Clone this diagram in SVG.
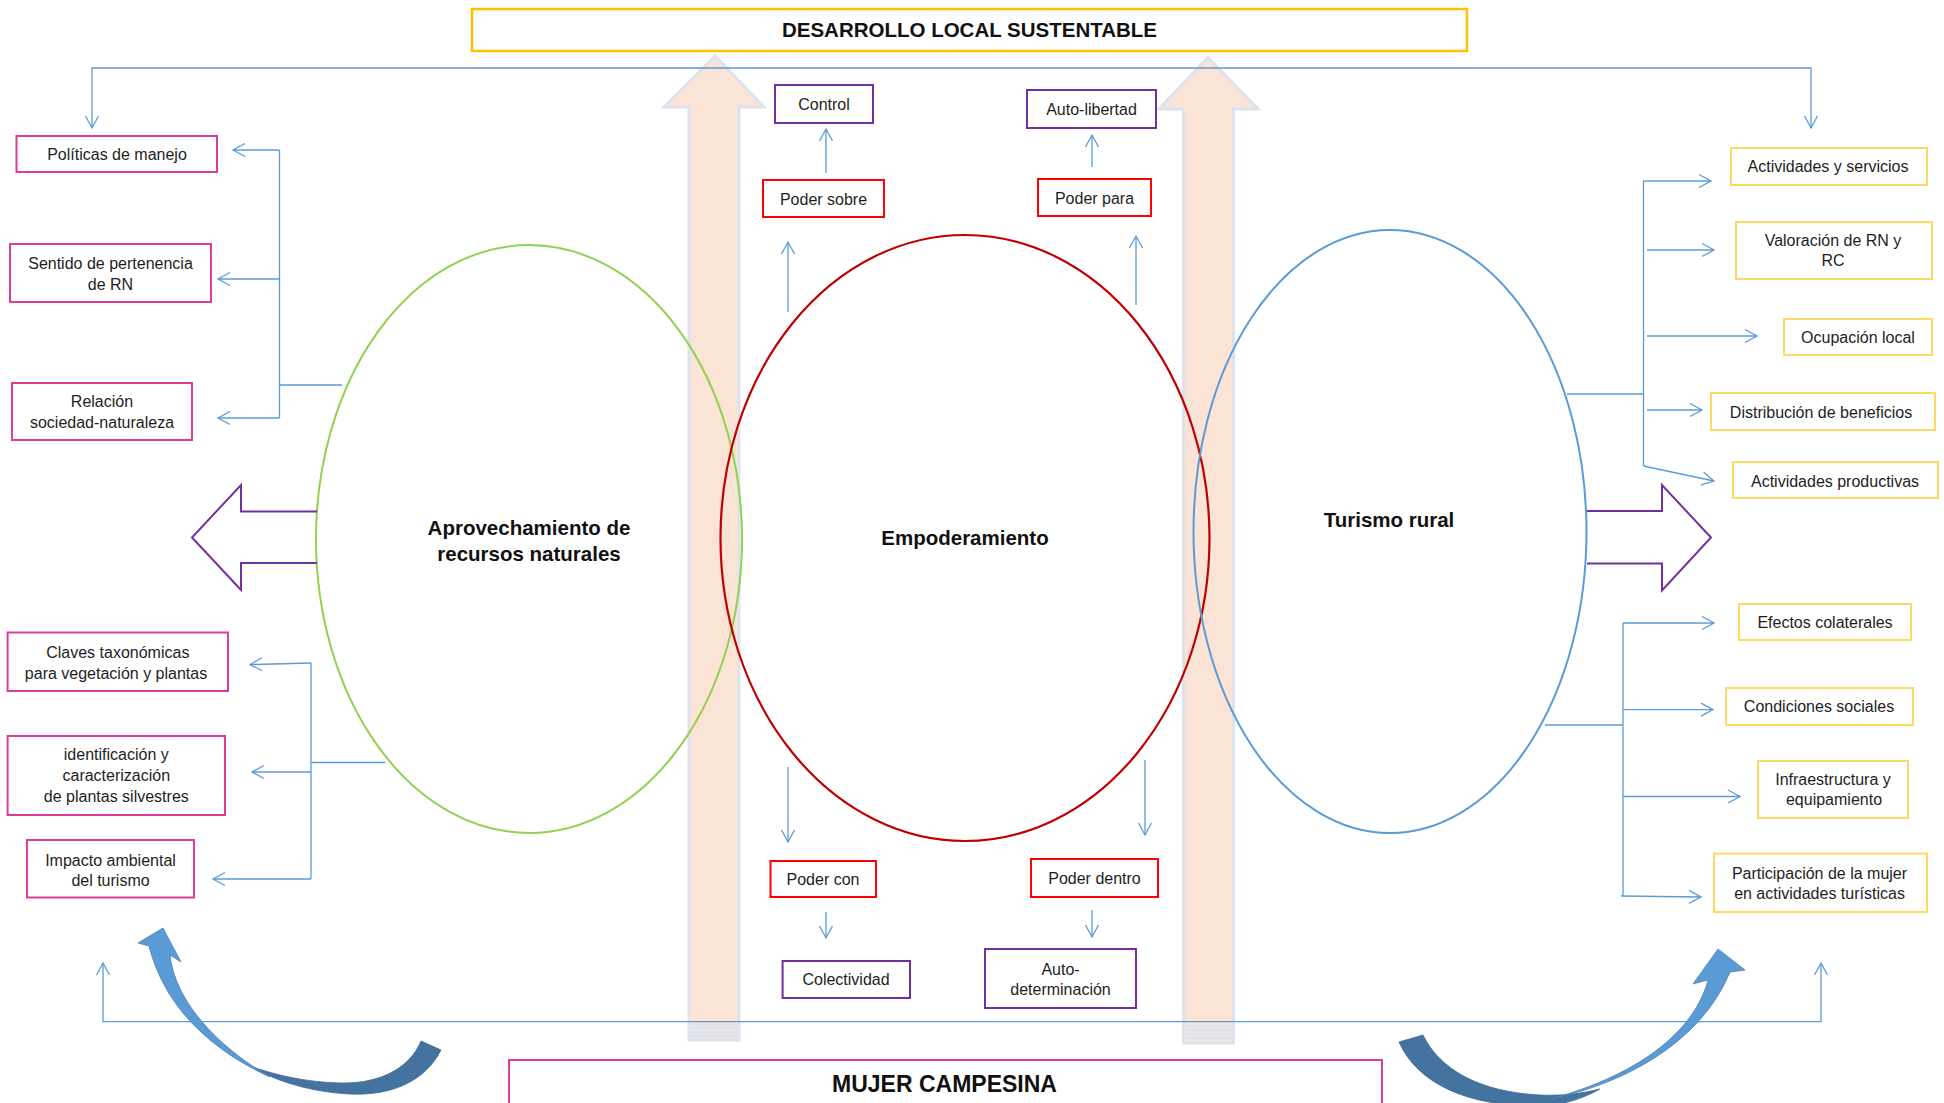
<svg xmlns="http://www.w3.org/2000/svg" width="1944" height="1103" viewBox="0 0 1944 1103">
<defs>
<style>
.bx{fill:#fff;stroke-width:2}
.mag{stroke:#DC3C9C}
.red{stroke:#FF0000}
.pur{stroke:#7030A0}
.gld{stroke:#FFD966}
.t{font-family:"Liberation Sans",Arial,sans-serif;font-size:16px;fill:#1e1e1e;text-anchor:middle}
.tb{font-family:"Liberation Sans",Arial,sans-serif;font-weight:bold;fill:#111;text-anchor:middle}
.cn{fill:none;stroke:#5B9BD5;stroke-width:1.3}
.ar{marker-end:url(#ah)}
.peach{fill:#FBE4D5;stroke:#DCE3EF;stroke-width:3}
.blk{fill:none;stroke:#7030A0;stroke-width:2}
</style>
<marker id="ah" markerUnits="userSpaceOnUse" markerWidth="16" markerHeight="16" viewBox="0 0 16 16" refX="14" refY="8" orient="auto-start-reverse">
<path d="M2,1.5 L14,8 L2,14.5" fill="none" stroke="#5B9BD5" stroke-width="1.3"/>
</marker>
</defs>
<rect width="1944" height="1103" fill="#fff"/>

<g id="peach-arrows">
<path class="peach" d="M715,56 L764,107 L739,107 L739,1025 L689,1025 L689,107 L664,107 Z"/>
<rect class="peach" x="689" y="1028" width="50" height="5" stroke-width="2"/>
<rect class="peach" x="689" y="1036" width="50" height="4" stroke-width="2"/>
<path class="peach" d="M1208,57.5 L1258,109 L1233.5,109 L1233.5,1027 L1183.5,1027 L1183.5,109 L1159,109 Z"/>
<rect class="peach" x="1183.5" y="1030" width="50" height="5" stroke-width="2"/>
<rect class="peach" x="1183.5" y="1038" width="50" height="5" stroke-width="2"/>
</g>

<g id="node-aprovechamiento">
<ellipse cx="529" cy="539" rx="213" ry="294" fill="none" stroke="#92D050" stroke-width="2"/>
<text class="tb" font-size="20.5" x="529" y="535">Aprovechamiento de</text>
<text class="tb" font-size="20.5" x="529" y="561">recursos naturales</text>
</g>
<g id="node-empoderamiento">
<ellipse cx="965" cy="538" rx="244.5" ry="303" fill="none" stroke="#C00000" stroke-width="2.2"/>
<text class="tb" font-size="20.5" x="965" y="545">Empoderamiento</text>
</g>
<g id="node-turismo">
<ellipse cx="1390" cy="531.5" rx="196.5" ry="301.5" fill="none" stroke="#5B9BD5" stroke-width="2"/>
<text class="tb" font-size="20.5" x="1389" y="527">Turismo rural</text>
</g>

<g id="block-arrows">
<path class="blk" d="M317,511.5 H241 V485 L192,537.5 L241,590 V563 H317"/>
<path class="blk" d="M1587,511 H1662 V485 L1711,537.5 L1662,590.5 V563.5 H1587"/>
</g>

<g id="node-titulo">
<rect x="472" y="9" width="995" height="42" fill="#fff" stroke="#FFC000" stroke-width="2.5"/>
<text class="tb" font-size="20.5" x="969.5" y="37">DESARROLLO LOCAL SUSTENTABLE</text>
</g>
<g id="node-mujer">
<rect x="509" y="1060" width="873" height="60" fill="#fff" stroke="#DC3C9C" stroke-width="2"/>
<text class="tb" font-size="23" x="944.5" y="1092">MUJER CAMPESINA</text>
</g>

<g id="node-politicas"><rect class="bx mag" x="16.5" y="136" width="200.5" height="36"/><text class="t" x="117" y="159.5">Políticas de manejo</text></g>
<g id="node-sentido"><rect class="bx mag" x="10" y="244" width="201" height="58"/><text class="t" x="110.5" y="269">Sentido de pertenencia</text><text class="t" x="110.5" y="290">de RN</text></g>
<g id="node-relacion"><rect class="bx mag" x="12" y="383" width="180" height="57"/><text class="t" x="102" y="407">Relación</text><text class="t" x="102" y="428">sociedad-naturaleza</text></g>
<g id="node-claves"><rect class="bx mag" x="7.6" y="632.5" width="220.4" height="58.5"/><text class="t" x="117.8" y="658">Claves  taxonómicas</text><text class="t" x="116" y="679">para vegetación  y plantas</text></g>
<g id="node-identificacion"><rect class="bx mag" x="7.6" y="736" width="217.4" height="79"/><text class="t" x="116.3" y="760">identificación y</text><text class="t" x="116.3" y="781">caracterización</text><text class="t" x="116.3" y="802">de plantas  silvestres</text></g>
<g id="node-impacto"><rect class="bx mag" x="27" y="840" width="167" height="57.5"/><text class="t" x="110.5" y="865.5">Impacto ambiental</text><text class="t" x="110.5" y="885.5">del turismo</text></g>

<g id="node-control"><rect class="bx pur" x="775" y="85" width="98" height="38"/><text class="t" x="824" y="110">Control</text></g>
<g id="node-poder-sobre"><rect class="bx red" x="763" y="180" width="121" height="37"/><text class="t" x="823.5" y="204.5">Poder sobre</text></g>
<g id="node-autolibertad"><rect class="bx pur" x="1027" y="90" width="129" height="38"/><text class="t" x="1091.5" y="115">Auto-libertad</text></g>
<g id="node-poder-para"><rect class="bx red" x="1038" y="179" width="113" height="37"/><text class="t" x="1094.5" y="203.5">Poder para</text></g>
<g id="node-poder-con"><rect class="bx red" x="770.5" y="861" width="105.5" height="36"/><text class="t" x="823" y="884.5">Poder con</text></g>
<g id="node-poder-dentro"><rect class="bx red" x="1031" y="859" width="127" height="38"/><text class="t" x="1094.5" y="883.5">Poder dentro</text></g>
<g id="node-colectividad"><rect class="bx pur" x="782.6" y="961" width="127.4" height="37"/><text class="t" x="846" y="985">Colectividad</text></g>
<g id="node-autodeterminacion"><rect class="bx pur" x="985" y="949" width="151" height="59"/><text class="t" x="1060.5" y="975">Auto-</text><text class="t" x="1060.5" y="995">determinación</text></g>

<g id="node-actividades-servicios"><rect class="bx gld" x="1731" y="148" width="196" height="37"/><text class="t" x="1828" y="172">Actividades  y servicios</text></g>
<g id="node-valoracion"><rect class="bx gld" x="1736" y="222" width="196" height="57"/><text class="t" x="1833" y="246">Valoración de RN  y</text><text class="t" x="1833" y="266">RC</text></g>
<g id="node-ocupacion"><rect class="bx gld" x="1784" y="319" width="148" height="36"/><text class="t" x="1858" y="343">Ocupación local</text></g>
<g id="node-distribucion"><rect class="bx gld" x="1711" y="393" width="224" height="37"/><text class="t" x="1821" y="418">Distribución de beneficios</text></g>
<g id="node-act-productivas"><rect class="bx gld" x="1733" y="462" width="205" height="36"/><text class="t" x="1835" y="486.5">Actividades  productivas</text></g>
<g id="node-efectos"><rect class="bx gld" x="1739" y="604" width="172" height="36"/><text class="t" x="1825" y="627.5">Efectos colaterales</text></g>
<g id="node-condiciones"><rect class="bx gld" x="1726" y="688" width="187" height="37"/><text class="t" x="1819" y="712">Condiciones sociales</text></g>
<g id="node-infraestructura"><rect class="bx gld" x="1758" y="761" width="150" height="57"/><text class="t" x="1833" y="785">Infraestructura y</text><text class="t" x="1834" y="805">equipamiento</text></g>
<g id="node-participacion"><rect class="bx gld" x="1714" y="853.6" width="213" height="58.4"/><text class="t" x="1819.5" y="878.5">Participación de la mujer</text><text class="t" x="1819.5" y="899">en actividades  turísticas</text></g>

<g id="connectors">
<path class="cn" d="M92,128 V68 H1811 V128" marker-start="url(#ah)" marker-end="url(#ah)"/>
<path class="cn" d="M103,963 V1021.7 H1821 V963" marker-start="url(#ah)" marker-end="url(#ah)"/>
<path class="cn" d="M342,385 H279.5"/>
<path class="cn" d="M279.5,150 V418"/>
<path class="cn ar" d="M279.5,150 H233"/>
<path class="cn ar" d="M279.5,279 H218"/>
<path class="cn ar" d="M279.5,418 H218"/>
<path class="cn" d="M385,762.5 H311"/>
<path class="cn" d="M311,663 V879"/>
<path class="cn ar" d="M311,663 L250,664.6"/>
<path class="cn ar" d="M311,772 H252"/>
<path class="cn ar" d="M311,879 H213"/>
<path class="cn" d="M1567,394 H1643.5"/>
<path class="cn" d="M1643.5,181 V466"/>
<path class="cn ar" d="M1643.5,181 H1711"/>
<path class="cn ar" d="M1647,250 H1714"/>
<path class="cn ar" d="M1647,336 H1757"/>
<path class="cn ar" d="M1647,410 H1702"/>
<path class="cn ar" d="M1643.5,466 L1714,481"/>
<path class="cn" d="M1545,725 H1623"/>
<path class="cn" d="M1623,623 V896"/>
<path class="cn ar" d="M1623,623 H1714"/>
<path class="cn ar" d="M1623,709.6 H1713"/>
<path class="cn ar" d="M1623,796.5 H1740"/>
<path class="cn ar" d="M1621,896 L1701,897"/>
<path class="cn ar" d="M788,312 V242"/>
<path class="cn ar" d="M826,173 V129"/>
<path class="cn ar" d="M1136,305 V236"/>
<path class="cn ar" d="M1092,167 V135"/>
<path class="cn ar" d="M788,767 V842"/>
<path class="cn ar" d="M826,912 V938"/>
<path class="cn ar" d="M1145,760 V835"/>
<path class="cn ar" d="M1092,910 V937"/>
</g>

<g id="curved-arrow-left">
<path d="M421,1041 L441,1050 C425,1082 390,1096 350,1094 C310,1092 275,1081 250,1066 C275,1075 305,1082 340,1083 C380,1084 410,1068 421,1041 Z" fill="#44739F" stroke="#3E6A96" stroke-width="0.8"/>
<path d="M270,1077 C215,1052 165,1010 149,946 L138,943 L163,928 L181,962 L170,955 C175,1000 215,1045 270,1077 Z" fill="#5B9BD5" stroke="#4A80B5" stroke-width="0.8"/>
</g>
<g id="curved-arrow-right">
<path d="M1399,1042 L1423,1035 C1440,1070 1480,1092 1540,1095 C1560,1096 1580,1094 1600,1089 C1580,1100 1560,1106 1535,1106 C1470,1106 1418,1085 1399,1042 Z" fill="#44739F" stroke="#3E6A96" stroke-width="0.8"/>
<path d="M1550,1099 C1620,1085 1700,1045 1730,972 L1745,970 L1718,949 L1693,984 L1708,980 C1695,1030 1640,1075 1550,1099 Z" fill="#5B9BD5" stroke="#4A80B5" stroke-width="0.8"/>
</g>
</svg>
